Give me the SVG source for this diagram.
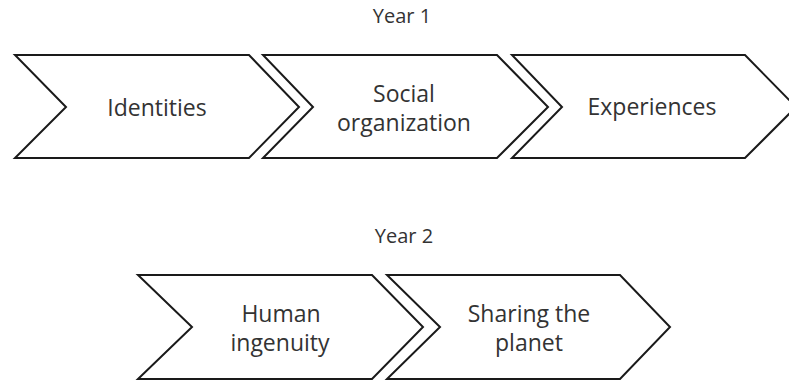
<svg xmlns="http://www.w3.org/2000/svg" width="789" height="382" viewBox="0 0 789 382">
<style>
.chev{fill:#fff;stroke:#1a1a1a;stroke-width:2;stroke-linejoin:miter}
.t{font-family:"Open Sans","Liberation Sans",sans-serif;font-size:23px;fill:#333;text-anchor:middle}
.y{font-family:"Open Sans","Liberation Sans",sans-serif;font-size:20px;fill:#333;text-anchor:middle}
</style>
<rect width="789" height="382" fill="#fff"/>
<g id="year1-label"><text class="y" x="402" y="23">Year 1</text></g>
<g id="year2-label"><text class="y" x="404" y="243">Year 2</text></g>
<g id="identities">
<polygon class="chev" points="15,55 249,55 299,107 249,158 15,158 66,107"/>
<text class="t" x="157" y="116">Identities</text>
</g>
<g id="social-organization">
<polygon class="chev" points="263,55 497,55 548,107 497,158 263,158 313,107"/>
<text class="t" x="404" y="102">Social</text>
<text class="t" x="404" y="131">organization</text>
</g>
<g id="experiences">
<polygon class="chev" points="512,55 745,55 796,107 745,158 512,158 562,107"/>
<text class="t" x="652" y="115">Experiences</text>
</g>
<g id="human-ingenuity">
<polygon class="chev" points="138,275 372,275 423,327 372,379 138,379 192,327"/>
<text class="t" x="281" y="322">Human</text>
<text class="t" x="280" y="351">ingenuity</text>
</g>
<g id="sharing-the-planet">
<polygon class="chev" points="387,275 620,275 670,327 620,379 387,379 440,327"/>
<text class="t" x="529" y="322">Sharing the</text>
<text class="t" x="529" y="351">planet</text>
</g>
<g id="connectors"></g>
</svg>
